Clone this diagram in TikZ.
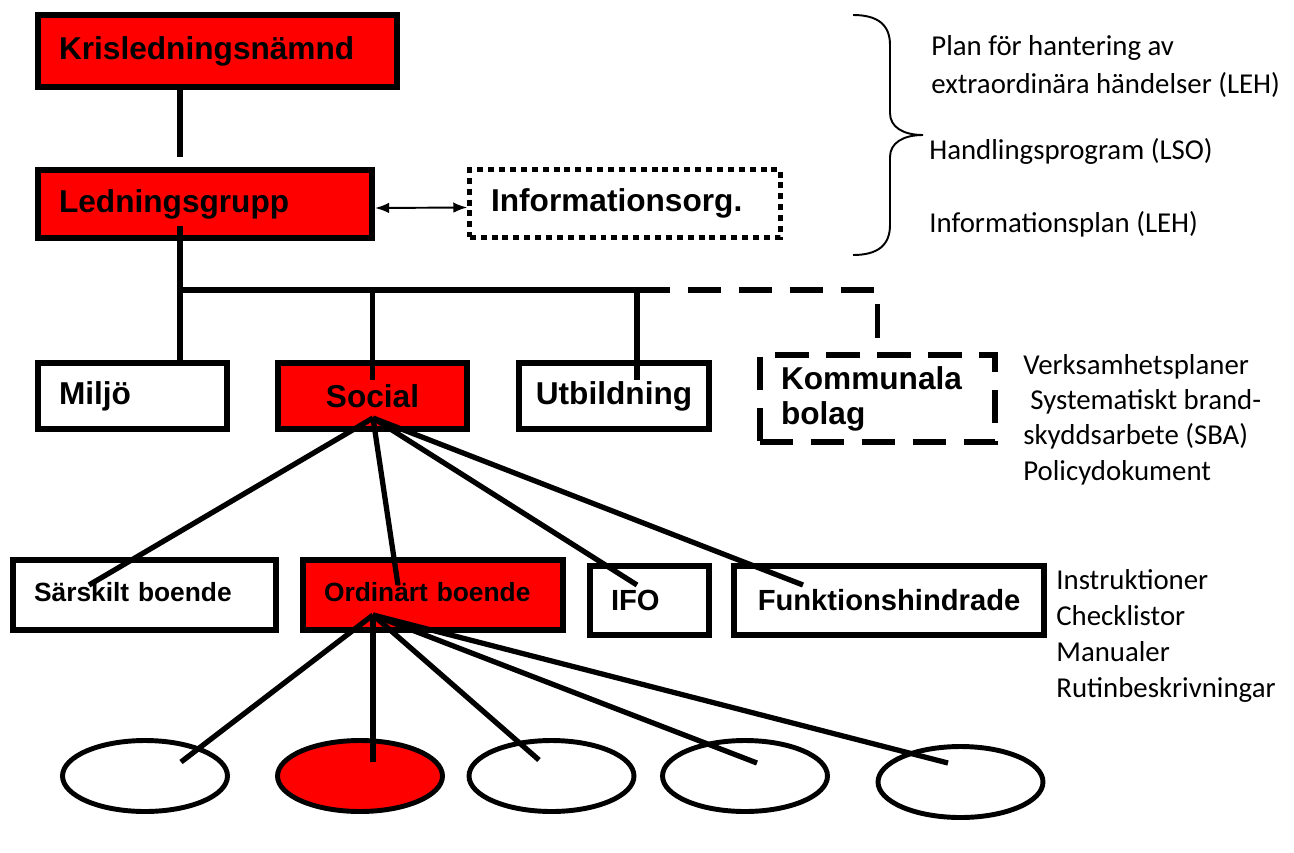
\documentclass[tikz,border=0pt]{standalone}
\usepackage{fontspec}
\setmainfont{Liberation Sans}
\newfontfamily\notefont{Carlito}
\usepackage{tikz}
\usetikzlibrary{shapes.geometric,arrows.meta,positioning,calc}

\tikzset{orgbox/.style={
    draw,
    rectangle,
    line width=3.2pt,
    inner xsep=0.425cm,
    inner ysep=0pt,
    align=left,
    font=\bfseries\fontsize{18}{20}\selectfont,
  }}
\tikzset{redbox/.style={orgbox, fill=red}}
\tikzset{smallbox/.style={orgbox, font=\bfseries\fontsize{15}{18}\selectfont}}
\tikzset{midbox/.style={orgbox, font=\bfseries\fontsize{16.6}{19}\selectfont}}
\tikzset{ellbox/.style={draw, ellipse, line width=2.8pt, inner sep=0pt,
    minimum width=3.3cm, minimum height=1.42cm}}
\tikzset{conn/.style={line width=3pt}}
\tikzset{dashline/.style={line width=3.2pt, dash pattern=on 19pt off 10pt}}
\tikzset{note/.style={anchor=base west, align=left, inner sep=0pt,
    font=\notefont\fontsize{16.4}{20}\selectfont}}

\begin{document}
\begin{tikzpicture}[x=0.02cm, y=-0.02cm]
  \useasboundingbox (0,0) rectangle (1294,852);

  % ledning
  \node (kris) [redbox, text width=6.34cm, minimum height=1.45cm] at (217.5,51) {Krisledningsnämnd};
  \node (ledn) [redbox, text width=5.84cm, minimum height=1.37cm] at (205,204) {Ledningsgrupp};
  \node (info) [orgbox, line width=2.8pt, dash pattern=on 3.4pt off 2.8pt,
    text width=5.36cm, minimum height=1.36cm] at (625,203.5) {Informationsorg.};

  % forvaltningar
  \node (miljo) [orgbox, text width=2.94cm, minimum height=1.33cm] at (132.5,396) {Miljö};
  \node (social) [redbox, align=center, minimum width=3.79cm, minimum height=1.33cm] at (372.5,396) {Social};
  \node (utb) [orgbox, align=center, inner xsep=0.2cm, minimum width=3.81cm, minimum height=1.33cm] at (614,396) {Utbildning};
  \node (komm) [orgbox, dash pattern=on 19pt off 10pt, text width=3.86cm, minimum height=1.75cm] at (877.5,398.5) {Kommunala\\bolag};

  % verksamheter
  \node (sarsk) [smallbox, text width=4.42cm, minimum height=1.41cm, text depth=3pt] at (144.5,595) {Särskilt boende};
  \node (ordin) [smallbox, fill=red, text width=4.36cm, minimum height=1.41cm, text depth=3pt] at (433,595) {Ordinärt boende};
  \node (ifo) [midbox, text width=1.54cm, minimum height=1.39cm] at (649.5,600.5) {IFO};
  \node (funk) [midbox, align=center, inner xsep=0.2cm, minimum width=6.21cm, minimum height=1.39cm] at (889,600.5) {Funktionshindrade};

  % enheter
  \node (e1) [ellbox] at (145,776) {};
  \node (e2) [ellbox, fill=red] at (360,776) {};
  \node (e3) [ellbox] at (551.5,776) {};
  \node (e4) [ellbox] at (745,776) {};
  \node (e5) [ellbox] at (960.5,782) {};

  % linjer
  \coordinate (j1) at (180,290);
  \coordinate (j3) at (637,290);
  \draw[conn, shorten >=0.2cm] (kris.south -| j1) -- (ledn.north -| j1);
  \draw[conn, shorten <=-0.3cm] (ledn.south -| j1) -- (j1);
  \draw[conn] (j1) -- (j3);
  \draw[conn] (j1) -- (miljo.north -| j1);
  \draw[conn, shorten >=-0.4cm] (social.north |- j1) -- (social.north);
  \draw[conn, shorten >=-0.4cm] (j3) -- (j3 |- utb.north);
  \draw[dashline] (j3) -- (komm.north |- j3) -- (komm.north);
  \draw[{Latex[length=8pt,width=6pt]}-{Latex[length=8pt,width=6pt]}, line width=1.1pt]
    ($(ledn.east)+(0,4)$) -- ($(info.west)+(0,4)$);

  \coordinate (sapex) at (373,418);
  \coordinate (s1) at (89,585);
  \coordinate (s2) at (398,585);
  \coordinate (s3) at (637,585);
  \coordinate (s4) at (803,585);
  \foreach \c in {s1,s2,s3,s4}
    \draw[conn] (sapex) -- (\c);

  \coordinate (oapex) at (373,615);
  \coordinate (t1) at (181,762);
  \coordinate (t2) at (373,762);
  \coordinate (t3) at (539,760);
  \coordinate (t4) at (757,763);
  \coordinate (t5) at (948,763);
  \foreach \c in {t1,t2,t3,t4,t5}
    \draw[conn] (oapex) -- (\c);

  % klammer
  \draw[line width=1.1pt] (853,15) .. controls (878,15) and (890,25) .. (890,45) -- (890,113)
    .. controls (890,127) and (903,135) .. (923,135)
    .. controls (903,135) and (890,143) .. (890,157) -- (890,225)
    .. controls (890,245) and (878,255) .. (853,255);

  % dokument (multi-line nodes sit on their last baseline)
  \node (plan) [note, font=\notefont\fontsize{16.4}{21.5}\selectfont] at (931,93) {Plan för hantering av\\extraordinära händelser (LEH)};
  \node (lso) [note] at (929,159) {Handlingsprogram (LSO)};
  \node (infoplan) [note] at (929,232) {Informationsplan (LEH)};
  \node (vplan) [note] at (1023,480) {Verksamhetsplaner\\\hspace*{4pt}Systematiskt brand-\\skyddsarbete (SBA)\\Policydokument};
  \node (instr) [note, font=\notefont\fontsize{16.4}{20.4}\selectfont] at (1056,697) {Instruktioner\\Checklistor\\Manualer\\Rutinbeskrivningar};
\end{tikzpicture}
\end{document}
